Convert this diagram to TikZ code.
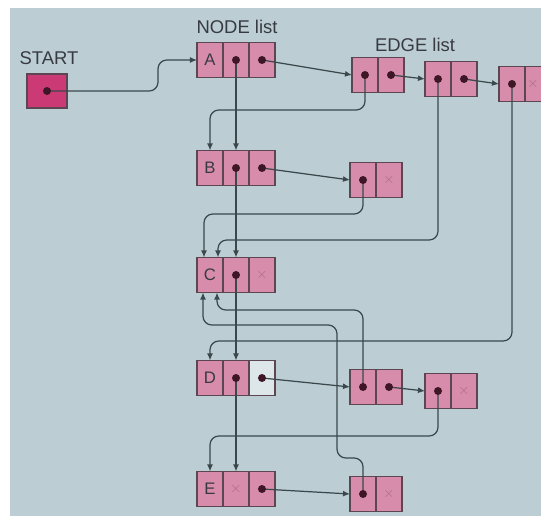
\documentclass[tikz,border=0pt]{standalone}
\usepackage{fontspec}
\setmainfont{Liberation Sans}
\usetikzlibrary{positioning, arrows.meta, calc}

\definecolor{paper}{RGB}{188,206,211}
\definecolor{cellc}{RGB}{214,140,170}
\definecolor{startc}{RGB}{204,58,118}
\definecolor{framec}{RGB}{92,70,82}
\definecolor{linec}{RGB}{58,72,76}
\definecolor{dotc}{RGB}{62,22,38}
\definecolor{txtc}{RGB}{56,58,66}
\definecolor{nilc}{RGB}{176,110,140}

\begin{document}
\begin{tikzpicture}[x=0.02cm, y=-0.02cm]

% 定义样式
\tikzset{
	cell/.style={
		draw=framec, fill=cellc, line width=0.6pt,
		minimum width=\cw, minimum height=\ch,
		inner sep=0pt, outer sep=0pt,
		text=txtc, font=\fontsize{9.5}{11}\selectfont
	},
	emptycell/.style={cell, fill=paper!50!white},
	nilmark/.style={text=nilc, font=\footnotesize, inner sep=0pt},
	link/.style={
		draw=linec, line width=0.7pt, rounded corners=5pt,
		-{Latex[length=4pt,width=3.4pt]}
	},
	heading/.style={text=txtc, font=\fontsize{10.5}{12}\selectfont}
}

% 参数设置
\def \cw {0.52cm}
\def \ch {0.70cm}

% 背景
\useasboundingbox (0,0) rectangle (541,516);
\fill[white] (0,0) rectangle (541,516);
\fill[paper] (10,8) rectangle (541,516);

% 标题
\node[heading] (startlbl) at (49,58) {START};
\node[heading] (nodelbl) at (237,27) {NODE list};
\node[heading] (edgelbl) at (415,45) {EDGE list};

% 起点
\node[cell, fill=startc, minimum width=0.8cm, minimum height=0.68cm] (start) at (47,91) {};

% 顶点表
\node[cell] (A1) at (210,60) {A};
\node[cell, right=0pt of A1] (A2) {};
\node[cell, right=0pt of A2] (A3) {};
\node[cell] (B1) at (210,168) {B};
\node[cell, right=0pt of B1] (B2) {};
\node[cell, right=0pt of B2] (B3) {};
\node[cell] (C1) at (210,275) {C};
\node[cell, right=0pt of C1] (C2) {};
\node[cell, right=0pt of C2] (C3) {};
\node[cell] (D1) at (210,378) {D};
\node[cell, right=0pt of D1] (D2) {};
\node[emptycell, right=0pt of D2] (D3) {};
\node[cell] (E1) at (210,489) {E};
\node[cell, right=0pt of E1] (E2) {};
\node[cell, right=0pt of E2] (E3) {};

% 边表
\node[cell] (AE1a) at (365,75) {};
\node[cell, right=0pt of AE1a] (AE1b) {};
\node[cell] (AE2a) at (438,79) {};
\node[cell, right=0pt of AE2a] (AE2b) {};
\node[cell] (AE3a) at (512,84) {};
\node[cell, right=0pt of AE3a] (AE3b) {};
\node[cell] (BE1a) at (363,180) {};
\node[cell, right=0pt of BE1a] (BE1b) {};
\node[cell] (DE1a) at (363,387) {};
\node[cell, right=0pt of DE1a] (DE1b) {};
\node[cell] (DE2a) at (438,391) {};
\node[cell, right=0pt of DE2a] (DE2b) {};
\node[cell] (EE1a) at (363,494) {};
\node[cell, right=0pt of EE1a] (EE1b) {};

% 空指针
\foreach \c in {C3,E2,BE1b,DE2b,EE1b}
	\node[nilmark] (x\c) at (\c.center) {$\times$};
\node[nilmark] (xAE3b) at ([xshift=-0.1cm]AE3b.center) {$\times$};

% 箭头终点
\coordinate (Cin1) at ([xshift=-0.12cm]C1.north);
\coordinate (Cin2) at ([xshift=0.16cm]C1.north);
\coordinate (Cout1) at ([xshift=-0.14cm]C1.south);
\coordinate (Cout2) at ([xshift=0.14cm]C1.south);
\coordinate (startbend) at (158,91);

% 起点指针
\draw[link] (start.center) -- (startbend) |- (A1.west);

% 顶点链
\draw[link] (A2.center) -- (B2.north);
\draw[link] (B2.center) -- (C2.north);
\draw[link] (C2.center) -- (D2.north);
\draw[link] (D2.center) -- (E2.north);

% 行内指针
\draw[link] (A3.center) -- (AE1a.west);
\draw[link] (AE1b.center) -- (AE2a.west);
\draw[link] (AE2b.center) -- (AE3a.west);
\draw[link] (B3.center) -- (BE1a.west);
\draw[link] (D3.center) -- (DE1a.west);
\draw[link] (DE1b.center) -- (DE2a.west);
\draw[link] (E3.center) -- (EE1a.west);

% 邻接顶点
\draw[link] (AE1a.center) |- (B1.north |- 0,110) -- (B1.north);
\draw[link] (BE1a.center) |- (Cin1 |- 0,214) -- (Cin1);
\draw[link] (AE2a.center) |- (Cin2 |- 0,240) -- (Cin2);
\draw[link] (AE3a.center) |- (D1.north |- 0,341) -- (D1.north);
\draw[link] (DE1a.center) |- (Cout2 |- 0,310) -- (Cout2);
\draw[link] (DE2a.center) |- (E1.north |- 0,436) -- (E1.north);
\draw[link] (EE1a.center) |- (337,458) |- (Cout1 |- 0,325) -- (Cout1);

% 黑点
\foreach \c in {start,A2,A3,B2,B3,C2,D2,D3,E3,AE1a,AE1b,AE2a,AE2b,AE3a,BE1a,DE1a,DE1b,DE2a,EE1a}
	\fill[dotc] (\c.center) circle (4);

\end{tikzpicture}
\end{document}
